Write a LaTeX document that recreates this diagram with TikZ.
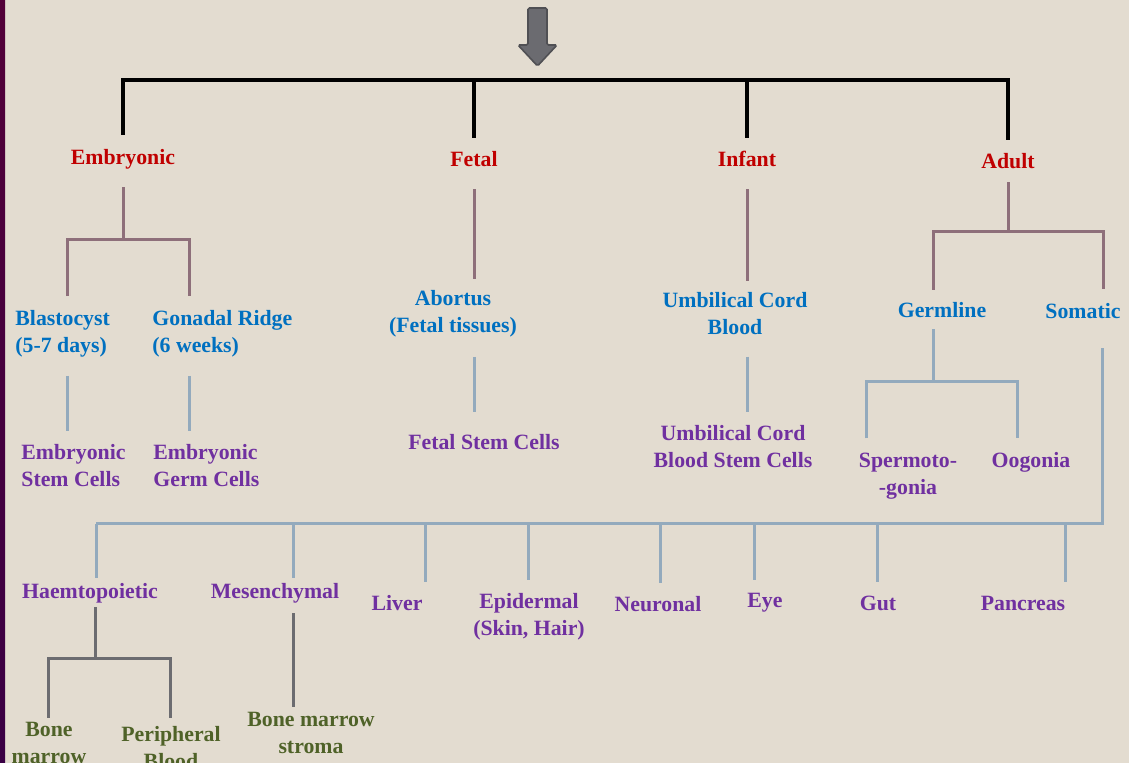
\documentclass[tikz,border=0pt]{standalone}
\usepackage{fontspec}
\setmainfont{Liberation Serif}
\definecolor{bgbeige}{HTML}{E3DCD0}
\definecolor{stripetop}{HTML}{520038}
\definecolor{stripebot}{HTML}{3A0045}
\definecolor{stagered}{HTML}{C00000}
\definecolor{sourceblue}{HTML}{0070C0}
\definecolor{cellpurple}{HTML}{7030A0}
\definecolor{tissueolive}{HTML}{4F6228}
\definecolor{mauveline}{HTML}{8E6F7A}
\definecolor{blueline}{HTML}{93AABD}
\definecolor{greyline}{HTML}{6C6C70}
\definecolor{arrowgrey}{HTML}{6B6B70}
\begin{document}
\begin{tikzpicture}[x=0.5pt, y=-0.5pt,
  every node/.style={inner sep=0pt, font=\fontsize{10.9}{13.5}\selectfont\bfseries},
  stagetext/.style={text=stagered},
  sourcetext/.style={text=sourceblue},
  celltext/.style={text=cellpurple},
  tissuetext/.style={text=tissueolive},
  toplink/.style={draw=black, line width=2pt},
  linkA/.style={draw=mauveline, line width=1.5pt},
  linkB/.style={draw=blueline, line width=1.5pt},
  linkC/.style={draw=greyline, line width=1.5pt}]

  % Page and left stripe
  \useasboundingbox (0,0) rectangle (1129,763);
  \clip (0,0) rectangle (1129,763);
  \fill[bgbeige] (0,0) rectangle (1129,763);
  \shade[top color=stripetop, bottom color=stripebot] (0,0) rectangle (5,763);

  % Big arrow at the top
  \draw[fill=arrowgrey, draw=arrowgrey!75!black, line width=0.8pt, rounded corners=0.8pt]
    (528,8) -- (547,8) -- (547,45) -- (557,45) -- (537.5,66) -- (518,45) -- (528,45) -- cycle;

  % Stages
  \node[stagetext] (emb) at (123,159) {Embryonic};
  \node[stagetext] (fetal) at (474,159) {Fetal};
  \node[stagetext] (infant) at (747,159) {Infant};
  \node[stagetext] (adult) at (1008,161) {Adult};

  % Sources
  \node[sourcetext, align=left, anchor=west] (blast) at (15,334) {Blastocyst\\(5-7 days)};
  \node[sourcetext, align=left, anchor=west] (gonad) at (152,334) {Gonadal Ridge\\(6 weeks)};
  \node[sourcetext, align=center] (abort) at (453,314) {Abortus\\(Fetal tissues)};
  \node[sourcetext, align=center] (ucb) at (735,314) {Umbilical Cord\\Blood};
  \node[sourcetext] (germ) at (942,310) {Germline};
  \node[sourcetext] (soma) at (1083,311) {Somatic};

  % Stem cells
  \node[celltext, align=left, anchor=west] (esc) at (21,466) {Embryonic\\Stem Cells};
  \node[celltext, align=left, anchor=west] (egc) at (153,466) {Embryonic\\Germ Cells};
  \node[celltext] (fsc) at (484,442) {Fetal Stem Cells};
  \node[celltext, align=center] (ucbsc) at (733,447) {Umbilical Cord\\Blood Stem Cells};
  \node[celltext, align=center] (sperm) at (908,476) {Spermoto-\\-gonia};
  \node[celltext] (oog) at (1031,462) {Oogonia};

  % Somatic types
  \node[celltext] (haem) at (90,593) {Haemtopoietic};
  \node[celltext] (mesen) at (275,593) {Mesenchymal};
  \node[celltext] (liver) at (397,603) {Liver};
  \node[celltext, align=center] (epid) at (529,617) {Epidermal\\(Skin, Hair)};
  \node[celltext] (neur) at (658,604) {Neuronal};
  \node[celltext] (eye) at (765,603) {Eye};
  \node[celltext] (gut) at (878,603) {Gut};
  \node[celltext] (panc) at (1023,603) {Pancreas};

  % Tissues
  \node[tissuetext, align=center] (bm) at (49,743) {Bone\\marrow};
  \node[tissuetext, align=center] (pb) at (171,748) {Peripheral\\Blood};
  \node[tissuetext, align=center] (bms) at (311,733) {Bone marrow\\stroma};

  % Top bar
  \coordinate (bar) at (0,80);
  \draw[toplink, shorten >=6.5pt] (emb.north) ++(0,-14) |- (bar -| adult) -- (adult.north);
  \draw[toplink, shorten >=6.5pt] (fetal |- bar) -- (fetal.north);
  \draw[toplink, shorten >=6.5pt] (infant |- bar) -- (infant.north);

  % Embryonic branch
  \coordinate (embfork) at (123,240);
  \draw[linkA, shorten <=9pt] (emb.south) -- (embfork);
  \draw[linkA, shorten <=7pt, shorten >=7pt] (blast.north -| 67,0) |- (embfork) -| (gonad.north -| 189,0);
  \draw[linkB, shorten <=9pt, shorten >=6.5pt] (blast.south -| 67,0) -- (esc.north -| 67,0);
  \draw[linkB, shorten <=9pt, shorten >=6.5pt] (gonad.south -| 189,0) -- (egc.north -| 189,0);

  % Fetal and infant branches
  \draw[linkA, shorten <=11pt, shorten >=5.5pt] (fetal.south) -- (abort.north -| fetal);
  \draw[linkB, shorten <=9.5pt, shorten >=11pt] (abort.south -| fetal) -- (fsc.north -| fetal);
  \draw[linkA, shorten <=11pt, shorten >=5.5pt] (infant.south) -- (ucb.north -| infant);
  \draw[linkB, shorten <=10.5pt, shorten >=6.5pt] (ucb.south -| infant) -- (ucbsc.north -| infant);

  % Adult branch
  \coordinate (adultfork) at (1008,232);
  \draw[linkA, shorten <=6.5pt] (adult.south) -- (adultfork);
  \draw[linkA, shorten <=6pt, shorten >=7pt] (germ.north -| 933,0) |- (adultfork) -| (soma.north -| 1103,0);
  \coordinate (germfork) at (933,382);
  \draw[linkB, shorten <=5.5pt] (germ.south -| germfork) -- (germfork);
  \draw[linkB, shorten <=7pt, shorten >=7pt] (sperm.north -| 866,0) |- (germfork) -| (oog.north -| 1017,0);

  % Somatic bar and its drops
  \coordinate (somabar) at (1102,524);
  \draw[linkB, shorten <=14.5pt] (soma.south -| somabar) -- (somabar) -- (96,524);
  \foreach \n/\x/\g in {haem/96/2.5, mesen/293/2.5, liver/425/6.5, epid/528/6.5,
                        neur/660/6.5, eye/754/6.5, gut/877/6.5, panc/1065/6.5}
    \draw[linkB, shorten >=\g pt] (\x,524) -- (\n.north -| \x,0);

  % Haemtopoietic and mesenchymal branches
  \coordinate (haemfork) at (95,659);
  \draw[linkC, shorten <=2pt] (haem.south -| haemfork) -- (haemfork);
  \draw[linkC, shorten <=2pt, shorten >=4pt] (bm.north -| 48,0) |- (haemfork) -| (pb.north -| 170,0);
  \draw[linkC, shorten <=5pt, shorten >=2.5pt] (mesen.south -| 293,0) -- (bms.north -| 293,0);

\end{tikzpicture}
\end{document}
